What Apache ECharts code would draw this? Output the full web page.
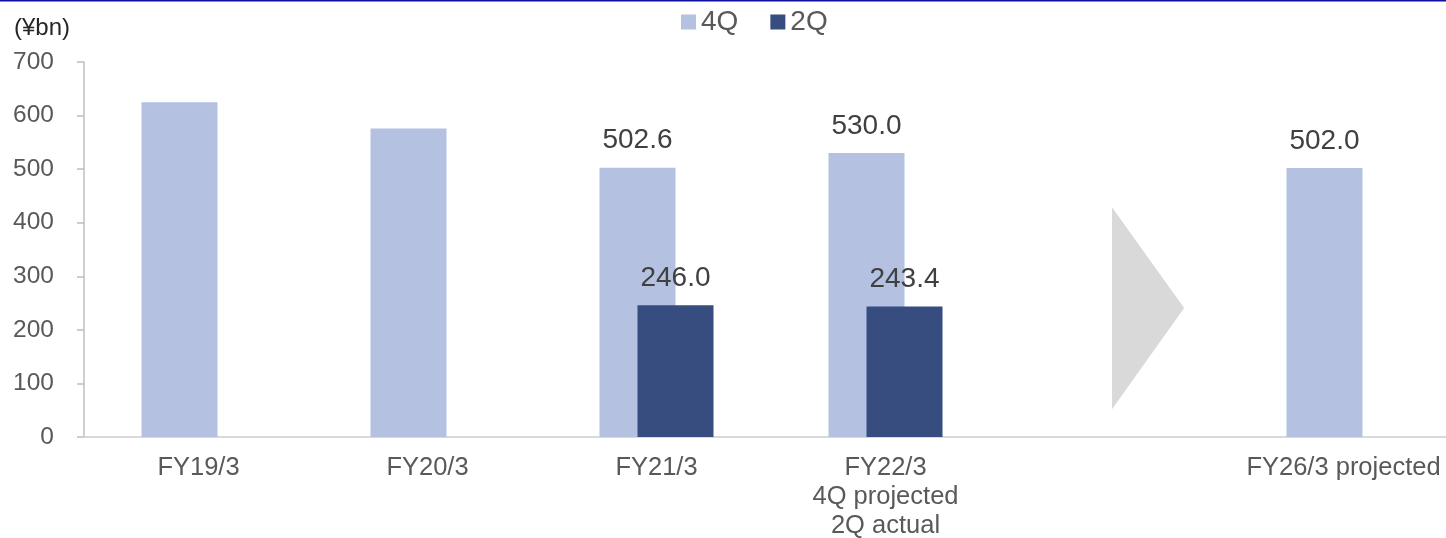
<!DOCTYPE html>
<html>
<head>
<meta charset="utf-8">
<script src="https://cdn.jsdelivr.net/npm/echarts@6/dist/echarts.min.js"></script>
<style>
html,body{margin:0;padding:0;background:#fff;}
#c{width:1446px;height:538px;}
</style>
</head>
<body>
<div id="c"></div>
<script>
const categories = ['FY19/3', 'FY20/3', 'FY21/3', 'FY22/3\n4Q projected\n2Q actual', '', 'FY26/3 projected'];
const q4Values = [625, 576, 502.6, 530.0, null, 502.0];
const q2Values = [null, null, 246.0, 243.4, null, null];
const q4ShowLabel = [false, false, true, true, false, true];
const q2ShowLabel = [false, false, true, true, false, false];
const yTicks = [0, 100, 200, 300, 400, 500, 600, 700];
const arrowCategory = 4;
const arrowRange = [52, 429, 241]; // bottom, top, tip value on y-axis

const FONT = "'Liberation Sans', Arial, sans-serif";
const chart = echarts.init(document.getElementById('c'));

function mkData(vals, show) {
  return vals.map((v, i) => ({ value: v, label: { show: show[i] } }));
}

chart.setOption({
  animation: false,
  backgroundColor: '#fff',
  textStyle: { fontFamily: FONT },
  graphic: [{
    type: 'rect', left: 0, top: 0,
    shape: { width: 1446, height: 1.5 },
    style: { fill: '#1010a0' }
  }],
  legend: {
    data: ['4Q', '2Q'],
    top: 3, left: 676,
    icon: 'rect', itemWidth: 15, itemHeight: 15, itemGap: 32,
    textStyle: { fontSize: 28, color: '#595959', fontFamily: FONT }
  },
  grid: { left: 84, right: -12, top: 62, bottom: 101, containLabel: false, outerBoundsMode: 'none' },
  xAxis: {
    type: 'category',
    data: categories,
    axisLine: { show: true, lineStyle: { color: '#d9d9d9', width: 2 } },
    axisTick: { show: false },
    axisLabel: { fontSize: 25.5, color: '#595959', margin: 16, lineHeight: 29, interval: 0, fontFamily: FONT }
  },
  yAxis: {
    type: 'value',
    min: yTicks[0], max: yTicks[yTicks.length - 1], interval: 100,
    name: '(¥bn)',
    nameLocation: 'end',
    nameGap: 22,
    nameTextStyle: { fontSize: 24, color: '#262626', align: 'right', padding: [0, 14, 0, 0], fontFamily: FONT },
    splitLine: { show: false },
    axisLine: { show: true, lineStyle: { color: '#bfbfbf', width: 1.5 } },
    axisTick: { show: true, length: 7, lineStyle: { color: '#bfbfbf', width: 1.5 } },
    axisLabel: { fontSize: 24.5, color: '#595959', margin: 30, fontFamily: FONT }
  },
  series: [
    {
      name: '4Q', type: 'bar',
      data: mkData(q4Values, q4ShowLabel),
      barWidth: 76, barGap: '-50%',
      itemStyle: { color: '#b4c1e0' },
      label: { position: 'top', distance: 13, fontSize: 28, color: '#404040', fontFamily: FONT,
        formatter: p => p.value.toFixed(1) },
      z: 2
    },
    {
      name: '2Q', type: 'bar',
      data: mkData(q2Values, q2ShowLabel),
      barWidth: 76, barGap: '-50%',
      itemStyle: { color: '#374d80' },
      label: { position: 'top', distance: 13, fontSize: 28, color: '#404040', fontFamily: FONT,
        formatter: p => p.value.toFixed(1) },
      z: 3
    },
    {
      name: 'arrow', type: 'custom', silent: true, z: 1,
      data: [[arrowCategory, arrowRange[2]]],
      renderItem: function (params, api) {
        const top = api.coord([api.value(0), arrowRange[1]]);
        const bot = api.coord([api.value(0), arrowRange[0]]);
        const mid = api.coord([api.value(0), arrowRange[2]]);
        const w = api.size([1, 0])[0] * 0.315;
        const x0 = top[0] - 2.5;
        return {
          type: 'polygon',
          shape: { points: [[x0, top[1]], [x0 + w, mid[1]], [x0, bot[1]]] },
          style: { fill: '#d9d9d9' }
        };
      }
    }
  ]
});
</script>
</body>
</html>
